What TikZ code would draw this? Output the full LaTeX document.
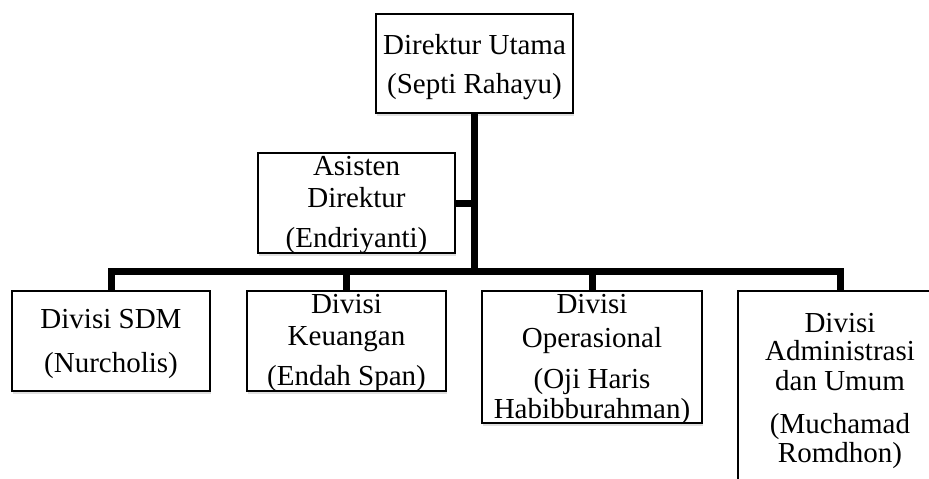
\documentclass[tikz,border=0pt]{standalone}
\usepackage{fontspec}
\setmainfont{Liberation Serif}
\usetikzlibrary{shadows}
\begin{document}
\begin{tikzpicture}[x=1pt,y=-1pt,
  box/.style={draw=black, line width=1.6pt, fill=white, rectangle, inner sep=0pt,
    drop shadow={opacity=0.25, shadow xshift=1pt, shadow yshift=-2.5pt}},
  txt/.style={anchor=base, inner sep=0pt, font=\fontsize{29}{35}\selectfont},
  conn/.style={line width=7pt, draw=black, line join=miter}]
\useasboundingbox (0,0) rectangle (929,479);
\clip (0,0) rectangle (929,479);

% boxes
\node[box, minimum width=197pt, minimum height=99pt]  (top)  at (474.5,63.5) {};
\node[box, minimum width=197pt, minimum height=100pt] (asis) at (356.5,203) {};
\node[box, minimum width=198pt, minimum height=100pt] (sdm)  at (111,341) {};
\node[box, minimum width=199pt, minimum height=100pt] (keu)  at (346.5,341) {};
\node[box, minimum width=220pt, minimum height=132pt] (ops)  at (592,357) {};
\node[box, minimum width=204pt, minimum height=240pt] (adm)  at (840,411) {};

% connectors
\coordinate (bar) at (474.5,271);
\draw[conn] (top.south) -- (top.south |- bar);
\draw[conn] (asis.east) -- (asis.east -| top.south);
\draw[conn] (sdm.north) |- (bar) -| (adm.north);
\draw[conn] (keu.north) -- (keu.north |- bar);
\draw[conn] (ops.north) -- (ops.north |- bar);

% labels
\node[txt] (top1) at (474.5,54) {Direktur Utama};
\node[txt] (top2) at (474.5,93) {(Septi Rahayu)};

\node[txt] (asis1) at (356.5,175) {Asisten};
\node[txt] (asis2) at (356.5,207) {Direktur};
\node[txt] (asis3) at (356.5,247) {(Endriyanti)};

\node[txt] (sdm1) at (111,328) {Divisi SDM};
\node[txt] (sdm2) at (111,372) {(Nurcholis)};

\node[txt] (keu1) at (346.5,313) {Divisi};
\node[txt] (keu2) at (346.5,345) {Keuangan};
\node[txt] (keu3) at (346.5,385) {(Endah Span)};

\node[txt] (ops1) at (592,313) {Divisi};
\node[txt] (ops2) at (592,347) {Operasional};
\node[txt] (ops3) at (592,388) {(Oji Haris};
\node[txt] (ops4) at (592,418) {Habibburahman)};

\node[txt] (adm1) at (840,332) {Divisi};
\node[txt] (adm2) at (840,360) {Administrasi};
\node[txt] (adm3) at (840,390) {dan Umum};
\node[txt] (adm4) at (840,433) {(Muchamad};
\node[txt] (adm5) at (840,462) {Romdhon)};
\end{tikzpicture}
\end{document}
